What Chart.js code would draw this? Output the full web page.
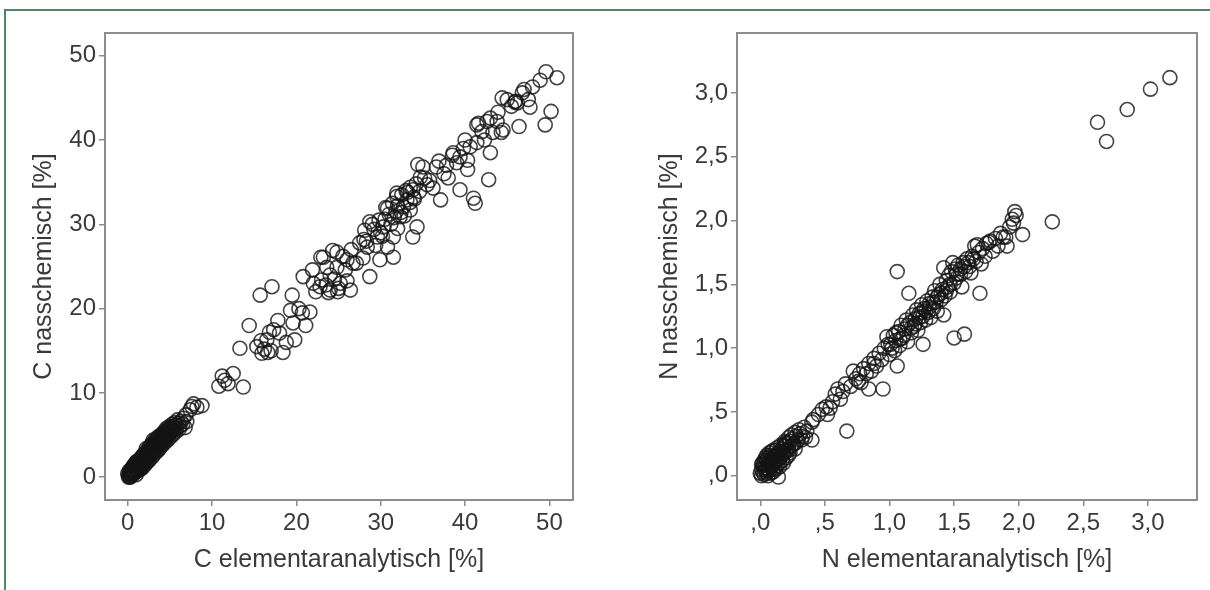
<!DOCTYPE html>
<html lang="de">
<head>
  <meta charset="UTF-8" />
  <title>C und N: nasschemisch vs. elementaranalytisch</title>
  <style>
    body {
      margin: 0;
      background: #fff;
      width: 1210px;
      height: 590px;
      position: relative;
      overflow: hidden;
      font-family: 'Liberation Sans', Arial, sans-serif;
    }
    .frame {
      position: absolute;
      left: 4px;
      top: 9px;
      width: 1220px;
      height: 600px;
      border-top: 2px solid #4f8762;
      border-left: 2px solid #4f8762;
    }
    canvas { position: absolute; top: 0; }
    #cChart { left: 0; }
    #nChart { left: 600px; }
  </style>
</head>
<body>
  <div class="frame"></div>
  <canvas id="cChart" width="600" height="590"></canvas>
  <canvas id="nChart" width="610" height="590"></canvas>

  <script src="https://cdn.jsdelivr.net/npm/chart.js"></script>
  <script>
    // Kohlenstoff: elementaranalytisch (x) und nasschemisch (y), in %
    const cElem = [
      0.1,0.2,0.3,0.2,0.4,0.5,0.3,0.6,0.7,0.5,0.8,0.9,1.0,1.1,0.9,1.2,1.3,1.4,1.5,1.2,
      1.6,1.7,1.8,1.6,1.9,2.0,2.1,2.2,2.0,2.3,2.4,2.5,2.6,2.4,2.7,2.8,2.9,3.0,2.8,3.1,
      3.2,3.3,3.4,3.2,3.5,3.6,3.7,3.8,3.6,3.9,4.0,4.1,4.2,4.3,4.4,4.5,4.6,4.7,4.8,4.9,
      5.0,5.1,5.2,5.4,5.5,5.7,5.8,6.0,6.2,5.9,6.3,1.5,2.5,3.5,1.0,0.7,2.2,3.0,6.5,6.8,7.0,
      0.2,0.4,0.6,0.8,1.0,1.1,1.3,1.4,1.6,1.7,1.8,1.9,2.1,2.2,2.3,2.5,2.6,2.7,2.9,3.0,
      3.1,3.3,3.4,3.5,3.7,3.8,3.9,4.1,4.2,4.4,4.5,4.6,4.8,4.9,5.1,5.3,5.4,5.6,5.7,6.1,
      0.0,0.3,0.9,1.4,1.9,2.4,2.9,3.4,3.9,4.4,4.9,5.3,1.1,1.7,2.2,2.7,3.2,3.7,4.2,4.7,
      0.6,0.1,0.4,5.0,6.6,6.9,
      7.4,7.8,8.2,8.8,7.6,
      10.8,11.5,11.9,12.5,13.7,11.2,
      13.3,14.4,15.7,17.1,15.3,15.8,16.5,16.6,16.2,17.0,17.8,18.0,18.4,18.8,19.5,19.6,19.8,20.7,21.6,21.1,
      17.3,16.8,15.9,19.3,20.3,
      20.8,21.9,23.2,24.8,22.8,24.0,25.2,23.6,24.8,26.4,26.0,26.7,27.9,28.7,22.3,23.5,24.5,25.0,23.8,24.3,
      22.9,27.1,24.9,26.0,25.5,24.0,25.8,23.0,22.0,
      28.1,28.7,29.6,30.3,29.9,31.5,30.8,31.5,32.3,31.9,33.1,33.8,32.7,33.5,34.3,33.8,34.4,28.4,28.0,29.0,
      30.0,30.5,31.0,31.2,31.8,32.0,32.5,32.8,33.2,33.5,34.0,34.2,34.7,35.5,35.0,36.6,35.8,36.2,32.0,30.8,
      29.4,31.9,33.5,26.5,27.5,28.3,29.2,29.8,30.2,31.4,32.4,33.0,33.9,34.6,35.2,30.6,31.6,
      37.1,38.0,38.6,39.4,39.0,40.3,40.3,40.0,40.6,41.4,43.0,42.8,39.4,41.0,41.2,41.4,41.6,42.6,43.0,43.8,
      44.5,43.3,44.3,44.4,46.2,46.4,46.8,47.5,47.7,48.0,48.9,49.6,50.9,50.2,49.5,38.5,37.5,36.9,45.5,45.9,
      42.0,47.0,37.8,39.8,42.3,43.9,45.0,46.0
    ];
    const cNass = [
      0.2,0.1,0.4,0.5,0.2,0.6,0.0,0.3,0.8,1.0,0.5,1.1,0.7,1.3,1.5,0.9,1.6,1.2,1.8,1.9,
      1.4,2.0,1.6,2.3,2.2,1.8,2.5,2.1,2.8,2.7,2.3,3.0,2.6,3.3,3.2,2.8,3.5,3.1,3.9,3.7,
      3.3,4.0,3.6,4.4,4.2,3.8,4.5,4.1,4.8,4.7,4.3,4.9,4.5,5.1,4.7,5.3,4.9,5.5,5.1,5.7,
      5.3,5.9,5.4,6.0,5.6,6.2,5.8,6.4,6.1,6.8,6.6,1.0,2.0,3.2,1.8,1.4,3.4,4.4,6.3,5.9,6.6,
      0.8,0.9,1.2,1.5,0.3,1.9,0.8,2.1,1.0,2.5,1.2,2.7,1.5,3.0,1.8,3.5,2.1,3.7,2.4,3.9,
      2.7,4.3,3.0,4.6,3.3,4.9,3.6,5.2,3.9,5.5,4.2,5.8,4.5,6.0,4.8,6.3,5.1,6.5,5.4,5.7,
      0.4,0.7,0.9,1.5,1.9,2.6,3.0,3.4,4.1,4.4,5.0,5.6,1.0,1.7,2.4,2.9,3.6,3.9,4.2,4.8,
      0.6,0.0,0.4,5.8,7.0,7.4,
      8.0,8.7,8.3,8.5,8.4,
      10.8,11.5,11.1,12.3,10.7,12.0,
      15.3,18.0,21.6,22.6,15.5,16.2,16.3,14.8,15.2,15.0,18.6,17.1,14.8,16.0,21.6,18.3,16.3,19.5,19.6,18.0,
      17.5,17.2,14.7,19.8,20.0,
      23.8,24.6,26.1,26.7,22.6,22.2,23.0,24.9,24.9,22.2,25.8,25.4,26.0,23.8,22.0,22.8,23.5,22.4,21.9,26.9,
      26.1,25.4,22.0,23.3,26.2,24.0,24.6,23.4,23.0,
      29.3,30.3,28.5,29.7,25.8,26.1,27.3,28.5,30.9,33.3,32.9,34.1,32.1,31.7,29.7,28.5,37.1,27.3,28.2,30.0,
      29.0,30.6,31.2,30.0,31.5,32.2,33.5,31.0,33.8,32.6,33.0,34.8,35.6,34.7,36.8,36.8,35.2,34.3,29.5,31.9,
      27.5,33.7,34.4,27.0,27.8,28.0,29.4,30.5,28.6,32.5,31.4,34.0,33.2,33.9,35.5,32.0,30.8,
      32.9,35.5,38.5,38.0,37.3,37.6,36.5,40.0,39.2,39.7,38.5,35.3,34.1,33.1,32.5,41.8,42.0,42.2,42.6,42.2,
      41.2,40.9,40.9,45.0,44.4,41.6,45.6,44.8,43.9,46.3,47.1,48.1,47.4,43.4,41.8,38.2,36.0,37.5,44.0,44.5,
      41.0,46.0,37.0,39.0,40.0,43.3,44.8,44.6
    ];

    // Stickstoff: elementaranalytisch (x) und nasschemisch (y), in %
    const nElem = [
      0.01,0.02,0.03,0.05,0.04,0.06,0.07,0.08,0.09,0.10,0.11,0.12,0.13,0.14,0.15,0.16,0.17,0.18,0.19,0.20,
      0.21,0.22,0.23,0.24,0.25,0.26,0.28,0.29,0.31,0.33,0.02,0.05,0.08,0.10,0.13,0.04,0.06,0.09,0.12,0.17,
      0.14,0.18,0.03,0.07,0.20,0.01,0.11,0.15,0.22,0.27,
      0.00,0.02,0.04,0.05,0.06,0.07,0.08,0.09,0.10,0.11,0.12,0.13,0.14,0.15,0.16,0.17,0.18,0.19,0.20,0.21,
      0.22,0.23,0.24,0.25,0.27,0.28,0.30,0.32,0.34,0.03,0.05,0.08,0.10,0.12,0.01,0.06,
      0.36,0.40,0.41,0.40,0.45,0.51,0.54,0.56,0.60,0.62,0.64,0.67,0.66,0.70,0.72,0.74,0.77,0.78,0.80,0.84,
      0.84,0.86,0.88,0.90,0.95,0.92,0.48,0.35,0.52,0.58,0.88,0.82,0.76,
      0.94,0.96,0.98,1.00,1.01,1.03,1.04,1.05,1.06,1.06,1.07,1.08,1.09,1.10,1.12,1.13,1.14,1.15,1.16,1.17,
      1.18,1.19,1.20,1.21,1.22,1.23,1.24,1.25,1.26,1.26,1.27,1.28,1.29,1.30,1.31,1.32,1.33,1.34,1.35,1.36,
      1.37,1.38,1.39,1.40,1.41,1.42,1.42,1.43,1.44,1.45,1.46,1.47,1.48,1.49,1.50,1.50,1.51,1.52,1.53,1.55,
      1.56,1.57,1.58,1.59,
      0.99,1.02,1.05,1.08,1.11,1.14,1.17,1.20,1.23,1.25,1.28,1.31,1.34,1.37,1.40,1.44,1.47,1.52,1.55,1.58,
      1.61,1.65,
      1.60,1.62,1.63,1.64,1.66,1.67,1.68,1.69,1.70,1.71,1.72,1.74,1.75,1.77,1.78,1.80,1.82,1.84,1.86,1.88,
      1.90,1.91,1.93,1.95,1.96,1.97,1.98,2.03,2.26,2.61,2.68,2.84,3.02,3.17
    ];
    const nNass = [
      0.00,0.03,0.06,0.02,0.09,0.05,0.11,0.07,0.13,0.09,0.15,0.11,0.17,0.13,0.19,0.15,0.21,0.17,0.23,0.19,
      0.25,0.20,0.27,0.23,0.29,0.25,0.31,0.28,0.33,0.31,0.08,0.12,0.16,0.03,0.08,0.14,0.00,0.19,0.20,0.12,
      -0.01,0.24,0.01,0.04,0.26,0.05,0.06,0.10,0.16,0.21,
      0.02,0.10,0.04,0.16,0.08,0.18,0.02,0.10,0.20,0.12,0.05,0.22,0.16,0.07,0.24,0.18,0.10,0.27,0.14,0.21,
      0.30,0.18,0.32,0.24,0.34,0.26,0.36,0.28,0.38,0.12,0.06,0.13,0.14,0.16,0.09,0.14,
      0.35,0.28,0.44,0.42,0.48,0.54,0.53,0.58,0.68,0.60,0.66,0.35,0.72,0.70,0.82,0.76,0.80,0.73,0.84,0.68,
      0.88,0.82,0.92,0.86,0.68,0.96,0.52,0.30,0.48,0.64,0.88,0.80,0.74,
      0.91,1.00,1.09,0.95,1.03,1.10,0.98,1.06,0.86,1.60,1.13,1.02,1.18,1.08,1.15,1.22,1.05,1.43,1.20,1.12,
      1.26,1.17,1.23,1.30,1.14,1.27,1.20,1.34,1.03,1.25,1.31,1.22,1.37,1.28,1.35,1.24,1.40,1.31,1.45,1.36,
      1.29,1.42,1.50,1.38,1.46,1.26,1.63,1.41,1.53,1.48,1.57,1.44,1.60,1.67,1.51,1.08,1.62,1.55,1.65,1.58,
      1.48,1.67,1.11,1.60,
      1.03,1.00,1.12,1.07,1.10,1.18,1.16,1.19,1.24,1.28,1.29,1.32,1.36,1.40,1.43,1.45,1.50,1.58,1.62,1.64,
      1.67,1.70,
      1.70,1.64,1.59,1.72,1.80,1.68,1.81,1.75,1.43,1.66,1.78,1.72,1.82,1.83,1.84,1.76,1.86,1.80,1.90,1.87,
      1.87,1.80,1.95,2.01,1.98,2.07,2.04,1.89,1.99,2.77,2.62,2.87,3.03,3.12
    ];

    // Achsenbeschriftungen
    const cTicks = [0, 10, 20, 30, 40, 50];
    const cTickLabels = ['0', '10', '20', '30', '40', '50'];
    const nTicks = [0, 0.5, 1.0, 1.5, 2.0, 2.5, 3.0];
    const nTickLabels = [',0', ',5', '1,0', '1,5', '2,0', '2,5', '3,0'];

    const tickFont = { family: "'Liberation Sans', Arial, sans-serif", size: 24 };
    const titleFont = { family: "'Liberation Sans', Arial, sans-serif", size: 25 };
    const textColor = '#3a3a3a';

    // Rahmen um die Plotfläche
    const boxPlugin = {
      id: 'box',
      afterDraw(chart) {
        const { ctx, chartArea: a } = chart;
        ctx.save();
        ctx.strokeStyle = '#8c8c8c';
        ctx.lineWidth = 2;
        ctx.strokeRect(a.left, a.top, a.right - a.left, a.bottom - a.top);
        ctx.restore();
      }
    };

    function axis(ticks, labels, min, max, title, size, titlePad) {
      return {
        type: 'linear',
        min: min,
        max: max,
        afterBuildTicks: s => { s.ticks = ticks.map(v => ({ value: v })); },
        afterFit: s => {
          if (s.isHorizontal()) s.height = size; else s.width = size;
        },
        ticks: {
          font: tickFont,
          color: textColor,
          padding: 3,
          maxRotation: 0,
          callback: (v) => labels[ticks.indexOf(v)]
        },
        grid: {
          drawOnChartArea: false,
          drawTicks: true,
          tickLength: 6,
          color: '#8c8c8c',
          lineWidth: 1.5
        },
        border: { display: false },
        title: {
          display: true,
          text: title,
          font: titleFont,
          color: textColor,
          padding: titlePad
        }
      };
    }

    function makeChart(id, xs, ys, xAxis, yAxis, padRight) {
      const pts = xs.map((x, i) => ({ x: x, y: ys[i] }));
      return new Chart(document.getElementById(id), {
        type: 'scatter',
        data: {
          datasets: [{
            data: pts,
            pointStyle: 'circle',
            pointRadius: 7,
            pointBorderWidth: 1.6,
            borderColor: 'rgba(20,20,20,0.8)',
            backgroundColor: 'rgba(0,0,0,0)'
          }]
        },
        options: {
          responsive: false,
          devicePixelRatio: 1,
          animation: false,
          layout: { padding: { top: 33, right: padRight, left: 0, bottom: 0 } },
          plugins: { legend: { display: false }, tooltip: { enabled: false } },
          scales: { x: xAxis, y: yAxis }
        },
        plugins: [boxPlugin]
      });
    }

    makeChart('cChart', cElem, cNass,
      axis(cTicks, cTickLabels, -2.7, 52.8, 'C elementaranalytisch [%]', 90, { bottom: 15 }),
      axis(cTicks, cTickLabels, -2.7, 52.7, 'C nasschemisch [%]', 105, { top: 29 }),
      27);

    makeChart('nChart', nElem, nNass,
      axis(nTicks, nTickLabels, -0.18, 3.38, 'N elementaranalytisch [%]', 90, { bottom: 15 }),
      axis(nTicks, nTickLabels, -0.19, 3.47, 'N nasschemisch [%]', 137, { top: 55 }),
      13);
  </script>
</body>
</html>
